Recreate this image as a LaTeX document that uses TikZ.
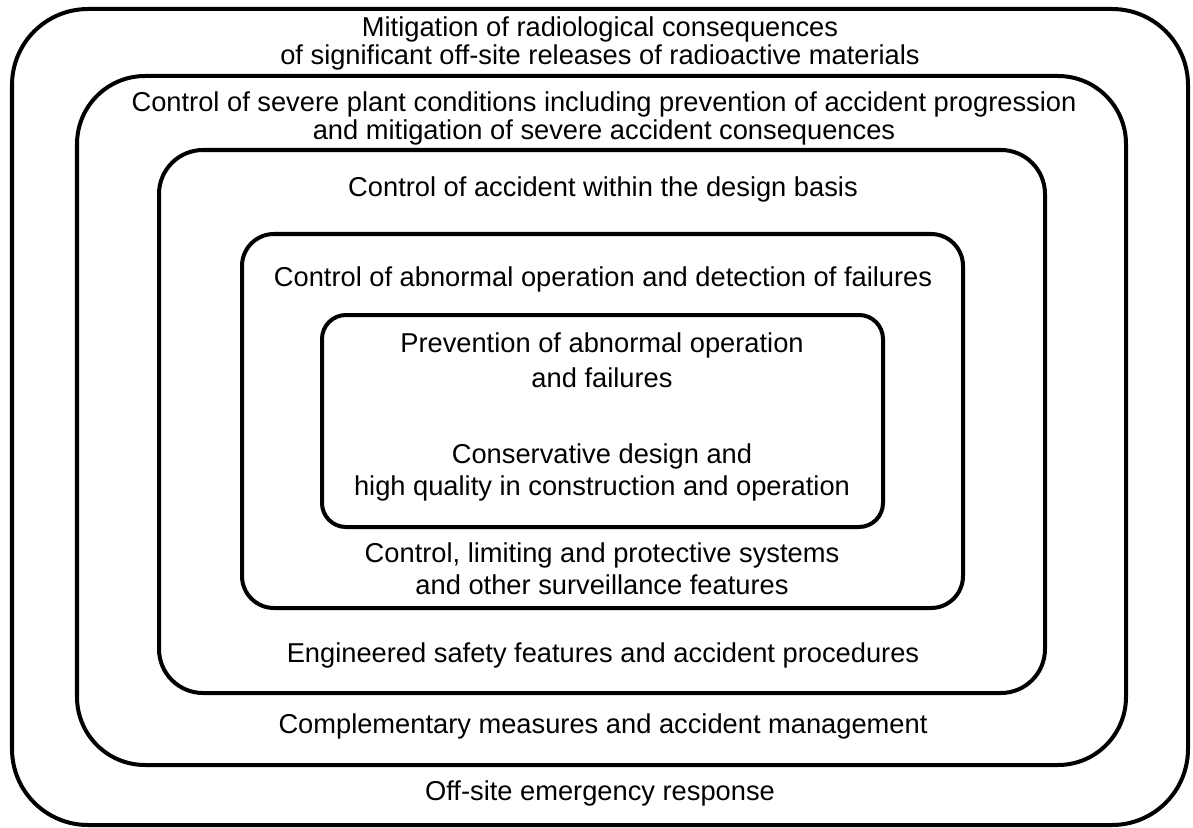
\documentclass[tikz,border=0pt]{standalone}
\usepackage{fontspec}
\setmainfont{Liberation Sans}
\usetikzlibrary{positioning}

\begin{document}
\begin{tikzpicture}[
  x=0.025cm, y=-0.025cm,
  layer/.style ={draw=black, line width=0.1cm},
  lab/.style   ={anchor=base, inner sep=0pt, font=\fontsize{19.4pt}{23pt}\selectfont},
]
\useasboundingbox (0,0) rectangle (1193,828);

% nested layers, outermost first
\draw[layer, rounded corners=1.9cm]  (12,9)    rectangle (1188,825);
\draw[layer, rounded corners=1.7cm]  (77,76)   rectangle (1126,765);
\draw[layer, rounded corners=1.1cm]  (159,150) rectangle (1045,693);
\draw[layer, rounded corners=0.8cm]  (242,234) rectangle (963,608);
\draw[layer, rounded corners=0.6cm]  (322,315) rectangle (883,527);

\node[lab] (mitA) at (600,37)  {Mitigation of radiological consequences};
\node[lab] (mitB) at (600,65)  {of significant off-site releases of radioactive materials};
\node[lab] (sevA) at (604,112) {Control of severe plant conditions including prevention of accident progression};
\node[lab] (sevB) at (604,140) {and mitigation of severe accident consequences};
\node[lab] (dba)  at (603,196) {Control of accident within the design basis};
\node[lab] (abn)  at (603,286) {Control of abnormal operation and detection of failures};
\node[lab] (prvA) at (602,352) {Prevention of abnormal operation};
\node[lab] (prvB) at (602,387) {and failures};
\node[lab] (conA) at (602,463) {Conservative design and};
\node[lab] (conB) at (602,495) {high quality in construction and operation};
\node[lab] (ctlA) at (602,562) {Control, limiting and protective systems};
\node[lab] (ctlB) at (602,594) {and other surveillance features};
\node[lab] (esf)  at (603,662) {Engineered safety features and accident procedures};
\node[lab] (cmp)  at (603,733) {Complementary measures and accident management};
\node[lab] (off)  at (600,800) {Off-site emergency response};

\end{tikzpicture}
\end{document}
